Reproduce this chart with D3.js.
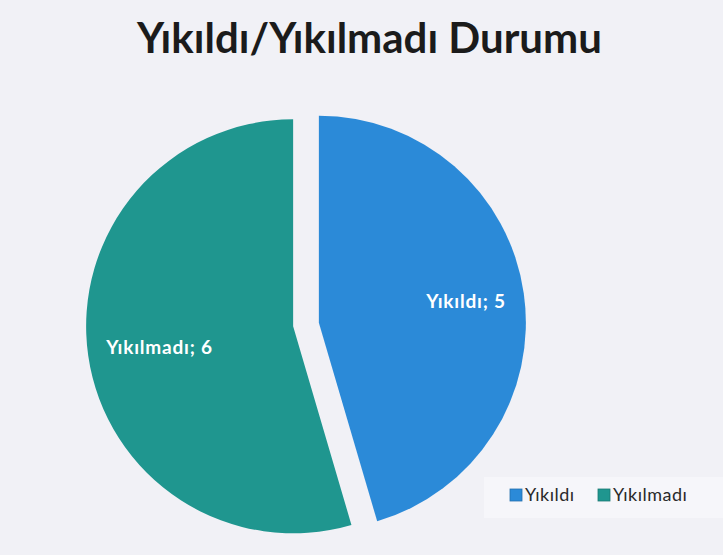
<!DOCTYPE html>
<html>
<head>
<meta charset="utf-8">
<script src="https://cdn.jsdelivr.net/npm/d3@7"></script>
<style>
  html, body { margin: 0; padding: 0; background: #f1f1f6; }
  svg { display: block; }
</style>
</head>
<body>
<svg id="chart" width="723" height="555"></svg>
<script>
// Chart data
const categories = ["Yıkıldı", "Yıkılmadı"];
const values = [5, 6];
const colors = ["#2b8ad8", "#1f968f"];
const titleText = "Yıkıldı/Yıkılmadı Durumu";

const W = 723, H = 555;
const cx = 306, cy = 324.5;
const R = 207;
const explode = 13;
const labelR = 150;
const labelMaxX = 187;

const svg = d3.select("#chart");

svg.append("rect").attr("width", W).attr("height", H).attr("fill", "#f1f1f6");

// Title
const title = svg.append("text")
  .attr("x", 369.5).attr("y", 53)
  .attr("text-anchor", "middle")
  .attr("font-family", "Lato, 'Open Sans', sans-serif")
  .attr("font-weight", "bold")
  .attr("font-size", 42)
  .attr("fill", "#1b1b1b")
  .text(titleText);
const tw = title.node().getComputedTextLength();
if (Math.abs(tw - 461) > 4) title.attr("textLength", 461).attr("lengthAdjust", "spacingAndGlyphs");

// Pie
const data = categories.map((c, i) => ({ name: c, value: values[i], color: colors[i] }));
const pie = d3.pie().value(d => d.value).sort(null);
const arc = d3.arc().innerRadius(0).outerRadius(R);
const arcs = pie(data);

const g = svg.append("g").attr("transform", `translate(${cx},${cy})`);

const slices = g.selectAll("g.slice").data(arcs).join("g")
  .attr("class", "slice")
  .attr("transform", d => {
    const a = (d.startAngle + d.endAngle) / 2;
    return `translate(${Math.sin(a) * explode},${-Math.cos(a) * explode})`;
  });

slices.append("path")
  .attr("d", arc)
  .attr("fill", d => d.data.color);

// Data labels inside the slices, kept within the slice's width
slices.append("text")
  .attr("font-family", "Lato, 'Open Sans', sans-serif")
  .attr("font-weight", "bold")
  .attr("font-size", 19)
  .attr("letter-spacing", 0.8)
  .attr("fill", "#ffffff")
  .attr("text-anchor", "middle")
  .attr("dy", "0.35em")
  .text(d => `${d.data.name}; ${d.data.value}`)
  .each(function(d) {
    const a = (d.startAngle + d.endAngle) / 2;
    const w = this.getComputedTextLength();
    let x = Math.sin(a) * labelR;
    const y = -Math.cos(a) * labelR;
    if (Math.abs(x) + w / 2 > labelMaxX) x = Math.sign(x) * (labelMaxX - w / 2);
    d3.select(this).attr("x", x).attr("y", y);
  });

// Legend
const legend = svg.append("g");
legend.append("rect")
  .attr("x", 484).attr("y", 477).attr("width", 239).attr("height", 41)
  .attr("fill", "#f6f6fa");

const lx = [510, 598];
const items = legend.selectAll("g.item").data(data).join("g")
  .attr("class", "item")
  .attr("transform", (d, i) => `translate(${lx[i]},489)`);
items.append("rect")
  .attr("width", 12).attr("height", 12)
  .attr("fill", d => d.color)
  .attr("stroke", d => d3.color(d.color).darker(0.6))
  .attr("stroke-width", 0.8);
items.append("text")
  .attr("x", 15).attr("y", 12)
  .attr("font-family", "Lato, 'Open Sans', sans-serif")
  .attr("font-size", 18)
  .attr("letter-spacing", 0.5)
  .attr("fill", "#2a2a2a")
  .text(d => d.name);
</script>
</body>
</html>
